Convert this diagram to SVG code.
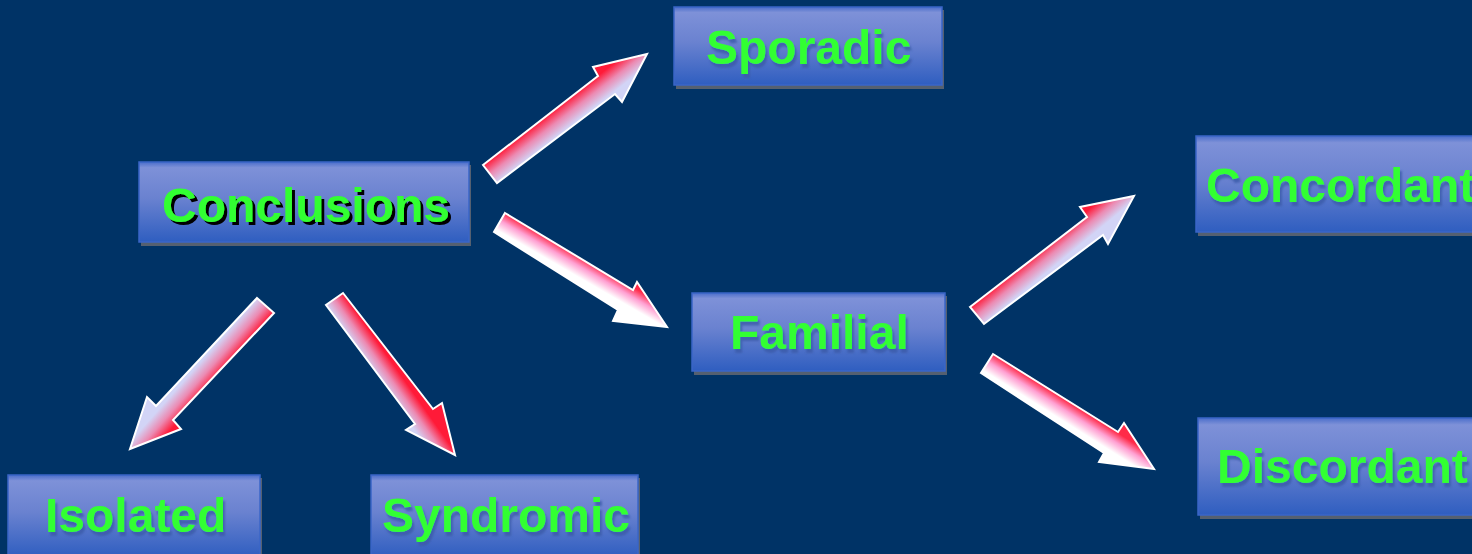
<svg xmlns="http://www.w3.org/2000/svg" width="1472" height="554" viewBox="0 0 1472 554">
  <style>
    .box { fill: url(#boxGrad); stroke: #3A66C8; stroke-width: 1.5; }
    .shadow { fill: #556070; }
    .label { font-family: "Liberation Sans", Arial, sans-serif; font-weight: bold; font-size: 48px; fill: #33FF33; filter: url(#softShadow); }
    .label.dark { filter: url(#hardShadow); }
    .arrow { stroke: #FFFFFF; stroke-width: 2; stroke-linejoin: miter; }
  </style>
  <defs>
    <linearGradient id="boxGrad" x1="0" y1="0" x2="0" y2="1">
      <stop offset="0" stop-color="#4A6ECA"/>
      <stop offset="0.07" stop-color="#7E91D8"/>
      <stop offset="0.45" stop-color="#6A82D0"/>
      <stop offset="1" stop-color="#2F5EC0"/>
    </linearGradient>
    <linearGradient id="redLav">
      <stop offset="0" stop-color="#FF1A38"/>
      <stop offset="0.5" stop-color="#EC8AB2"/>
      <stop offset="1" stop-color="#D2D4F6"/>
    </linearGradient>
    <linearGradient id="redWhite">
      <stop offset="0" stop-color="#FF2A48"/>
      <stop offset="0.4" stop-color="#FFA0D2"/>
      <stop offset="0.85" stop-color="#FFFFFF"/>
    </linearGradient>
    <linearGradient id="g1" href="#redLav" gradientUnits="userSpaceOnUse" x1="483" y1="165" x2="497" y2="183"/>
    <linearGradient id="g2" href="#redWhite" gradientUnits="userSpaceOnUse" x1="505" y1="213" x2="494" y2="232"/>
    <linearGradient id="g3" href="#redLav" gradientUnits="userSpaceOnUse" x1="274" y1="313" x2="257" y2="298"/>
    <linearGradient id="g4" href="#redLav" gradientUnits="userSpaceOnUse" x1="343" y1="293" x2="326" y2="305"/>
    <linearGradient id="g5" href="#redLav" gradientUnits="userSpaceOnUse" x1="970" y1="307" x2="984" y2="324"/>
    <linearGradient id="g6" href="#redWhite" gradientUnits="userSpaceOnUse" x1="993" y1="354" x2="981" y2="373"/>
    <filter id="hardShadow" x="-10%" y="-20%" width="120%" height="150%">
      <feOffset in="SourceAlpha" dx="3" dy="3" result="o"/>
      <feFlood flood-color="#000000"/>
      <feComposite in2="o" operator="in" result="s"/>
      <feMerge><feMergeNode in="s"/><feMergeNode in="SourceGraphic"/></feMerge>
    </filter>
    <filter id="softShadow" x="-10%" y="-20%" width="120%" height="150%">
      <feOffset in="SourceAlpha" dx="2" dy="4" result="o"/>
      <feGaussianBlur in="o" stdDeviation="1" result="b"/>
      <feFlood flood-color="#3A5AA8" flood-opacity="0.8"/>
      <feComposite in2="b" operator="in" result="s"/>
      <feMerge><feMergeNode in="s"/><feMergeNode in="SourceGraphic"/></feMerge>
    </filter>
  </defs>
  <rect x="0" y="0" width="1472" height="554" fill="#003366"/>

  <g id="node-conclusions">
    <rect class="shadow" x="141" y="165" width="330" height="81"/>
    <rect class="box" x="139" y="162" width="330" height="80"/>
    <text class="label dark" x="162" y="222">Conclusions</text>
  </g>
  <g id="node-sporadic">
    <rect class="shadow" x="676" y="10" width="268" height="79"/>
    <rect class="box" x="674" y="7" width="268" height="78"/>
    <text class="label" x="706" y="64">Sporadic</text>
  </g>
  <g id="node-familial">
    <rect class="shadow" x="694" y="296" width="253" height="79"/>
    <rect class="box" x="692" y="293" width="253" height="78"/>
    <text class="label" x="730" y="349">Familial</text>
  </g>
  <g id="node-concordant">
    <rect class="shadow" x="1198" y="139" width="290" height="97"/>
    <rect class="box" x="1196" y="136" width="290" height="96"/>
    <text class="label" x="1206" y="202">Concordant</text>
  </g>
  <g id="node-discordant">
    <rect class="shadow" x="1200" y="421" width="290" height="98"/>
    <rect class="box" x="1198" y="418" width="290" height="97"/>
    <text class="label" x="1217" y="483">Discordant</text>
  </g>
  <g id="node-isolated">
    <rect class="shadow" x="10" y="478" width="252" height="80"/>
    <rect class="box" x="8" y="475" width="252" height="82"/>
    <text class="label" x="45" y="532">Isolated</text>
  </g>
  <g id="node-syndromic">
    <rect class="shadow" x="373" y="478" width="267" height="80"/>
    <rect class="box" x="371" y="475" width="267" height="82"/>
    <text class="label" x="382" y="532">Syndromic</text>
  </g>

  <g id="connectors">
    <polygon class="arrow" fill="url(#g1)" points="483,165 598,76 593,67 647,54 622,102 615,94 497,183"/>
    <polygon class="arrow" fill="url(#g2)" points="505,213 633,290 637,282 667,327 613,321 618,310 494,232"/>
    <polygon class="arrow" fill="url(#g3)" points="257,298 274,313 173,420 181,429 130,449 147,397 156,406"/>
    <polygon class="arrow" fill="url(#g4)" points="343,293 433,409 442,403 455,455 406,430 415,424 326,305"/>
    <polygon class="arrow" fill="url(#g5)" points="970,307 1087,217 1080,207 1134,196 1108,244 1103,235 984,324"/>
    <polygon class="arrow" fill="url(#g6)" points="993,354 1118,432 1124,423 1154,469 1099,462 1104,453 981,373"/>
  </g>
</svg>
